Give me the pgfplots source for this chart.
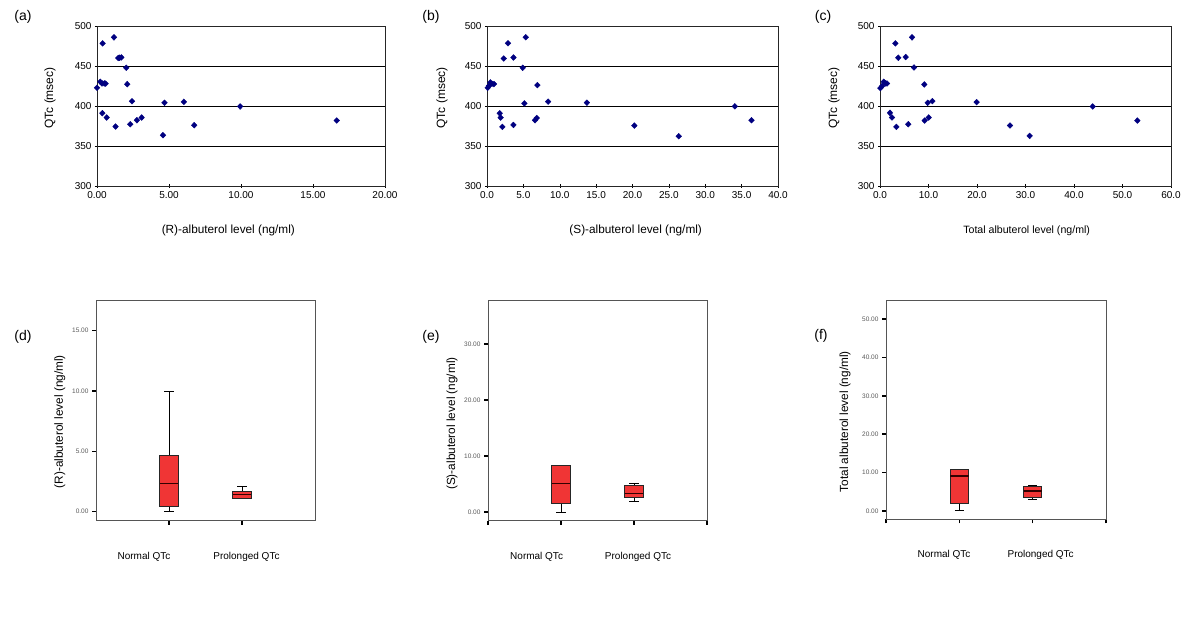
\documentclass[border=0pt]{standalone}
\usepackage{fontspec}
\setmainfont{Liberation Sans}
\usepackage{pgfplots}
\pgfplotsset{compat=1.18}
\usepgfplotslibrary{statistics}
\definecolor{navy}{HTML}{000080}
\definecolor{boxred}{HTML}{F03535}
\definecolor{framegray}{HTML}{555555}

\pgfplotsset{
  scat/.style={
    scale only axis, anchor=south west, clip=false,
    ymin=300, ymax=500, ytick={300,350,400,450,500},
    ymajorgrids, grid style={black, line width=0.6pt},
    axis line style={black!85, line width=0.6pt},
    tick style={black, line width=0.5pt}, major tick length=4pt, tick align=center,
    xtick pos=bottom, ytick pos=left,
    /pgf/number format/assume math mode=true,
    ticklabel style={font=\fontsize{10}{12}\selectfont},
    y tick label style={/pgf/number format/.cd, fixed, precision=0},
    ylabel style={anchor=center, font=\fontsize{12}{14}\selectfont},
    xlabel style={anchor=center},
  },
  dmk/.style={only marks, mark=diamond*, mark size=2.9pt, color=navy, mark options={xscale=1.3}},
  bx/.style={
    scale only axis, anchor=south west, clip=false,
    xmin=0, xmax=3, xticklabels={{},{},{},{}},
    boxplot/draw direction=y,
    axis line style={framegray, line width=0.9pt},
    tick style={black, line width=1.6pt}, major tick length=4pt, tick align=outside,
    xtick pos=bottom, ytick pos=left,
    /pgf/number format/assume math mode=true,
    yticklabel style={font=\fontsize{6.5}{8}\selectfont, text=black!65,
      /pgf/number format/.cd, fixed, fixed zerofill, precision=2},
    ylabel style={anchor=center, font=\fontsize{11.8}{14}\selectfont},
    boxplot/every box/.style={draw=black!85, fill=boxred, line width=0.8pt},
    boxplot/every whisker/.style={black, line width=0.8pt},
    boxplot/every median/.style={black!80!red, line width=1.3pt},
  },
}

\begin{document}
\begin{tikzpicture}
\useasboundingbox (0,0) rectangle (1200pt,620pt);

% ---------- (a) ----------
\begin{axis}[scat, at={(97pt,434pt)}, width=288pt, height=160pt,
  xmin=0, xmax=20, xtick={0,5,10,15,20},
  x tick label style={/pgf/number format/.cd, fixed, fixed zerofill, precision=2},
  ylabel={QTc (msec)}, ylabel style={at={(axis description cs:-0.163,0.55)}},
  xlabel={(R)-albuterol level (ng/ml)},
  xlabel style={at={(axis description cs:0.456,-0.279)}, font=\fontsize{11.8}{14}\selectfont}]
\addplot[dmk] coordinates {
(0.00,422.8) (0.23,430.3) (0.39,478.3) (0.35,428.2) (0.51,428.2) (0.60,428.0)
(0.37,391.0) (0.67,385.6) (1.18,485.8) (1.29,374.3) (1.48,460.0) (1.69,460.7)
(1.57,460.3) (2.03,447.8) (2.10,427.3) (2.43,406.0) (2.31,377.2) (2.77,382.2)
(3.10,385.6) (4.58,363.5) (4.69,404.0) (6.03,405.2) (6.75,376.0) (9.94,399.4)
(16.65,381.8)};
\end{axis}

% ---------- (b) ----------
\begin{axis}[scat, at={(487pt,434pt)}, width=291pt, height=160pt,
  xmin=0, xmax=40, xtick={0,5,...,40},
  x tick label style={/pgf/number format/.cd, fixed, fixed zerofill, precision=1},
  ylabel={QTc (msec)}, ylabel style={at={(axis description cs:-0.155,0.55)}},
  xlabel={(S)-albuterol level (ng/ml)},
  xlabel style={at={(axis description cs:0.511,-0.279)}, font=\fontsize{11.8}{14}\selectfont}]
\addplot[dmk] coordinates {
(0.09,422.8) (0.28,425.3) (0.46,429.5) (0.69,427.8) (0.96,427.4) (1.74,390.9)
(1.88,385.5) (2.11,373.9) (2.30,459.3) (2.89,478.4) (3.63,460.6) (3.63,376.3)
(4.91,447.7) (5.33,485.9) (5.14,403.3) (6.61,382.2) (6.84,385.0) (6.93,426.1)
(8.40,405.4) (13.73,404.1) (20.25,375.5) (26.35,362.2) (34.07,399.6) (36.36,382.2)};
\end{axis}

% ---------- (c) ----------
\begin{axis}[scat, at={(880pt,434pt)}, width=291pt, height=160pt,
  xmin=0, xmax=60, xtick={0,10,...,60},
  x tick label style={/pgf/number format/.cd, fixed, fixed zerofill, precision=1},
  ylabel={QTc (msec)}, ylabel style={at={(axis description cs:-0.158,0.55)}},
  xlabel={Total albuterol level (ng/ml)},
  xlabel style={at={(axis description cs:0.504,-0.279)}, font=\fontsize{10.6}{13}\selectfont}]
\addplot[dmk] coordinates {
(0.07,422.3) (0.41,424.8) (0.76,430.3) (1.10,428.2) (1.44,428.2) (2.06,391.4)
(2.47,385.6) (3.37,373.9) (3.16,478.3) (3.78,460.3) (5.29,461.2) (5.84,377.2)
(6.60,485.8) (7.01,448.2) (9.14,426.9) (9.21,381.8) (10.03,385.6) (9.83,404.0)
(10.79,406.1) (19.93,404.8) (26.80,375.6) (30.86,362.6) (43.85,399.4) (53.06,381.8)};
\end{axis}

% ---------- (d) ----------
\begin{axis}[bx, at={(96pt,99.3pt)}, width=219pt, height=220.7pt,
  ymin=-0.75, ymax=17.54, ytick={0,5,10,15}, xtick={1,2},
  ylabel={(R)-albuterol level (ng/ml)},
  ylabel style={at={(axis description cs:-0.165,0.449)}}]
\addplot[boxplot prepared={draw position=1, lower whisker=0, lower quartile=0.47,
  median=2.35, upper quartile=4.67, upper whisker=10.0, box extend=0.25, whisker extend=0.125}]
  coordinates {};
\addplot[boxplot prepared={draw position=2, lower whisker=1.11, lower quartile=1.11,
  median=1.41, upper quartile=1.66, upper whisker=2.07, box extend=0.25, whisker extend=0.125}]
  coordinates {};
\node[font=\fontsize{10}{12}\selectfont] at (rel axis cs:0.219,-0.163) {Normal QTc};
\node[font=\fontsize{10}{12}\selectfont] at (rel axis cs:0.687,-0.163) {Prolonged QTc};
\end{axis}

% ---------- (e) ----------
\begin{axis}[bx, at={(488pt,99.3pt)}, width=219pt, height=220.7pt,
  ymin=-1.55, ymax=37.9, ytick={0,10,20,30}, xtick={0,1,2,3},
  ylabel={(S)-albuterol level (ng/ml)},
  ylabel style={at={(axis description cs:-0.164,0.44)}}]
\addplot[boxplot prepared={draw position=1, lower whisker=0, lower quartile=1.55,
  median=5.12, upper quartile=8.33, upper whisker=8.33, box extend=0.25, whisker extend=0.125}]
  coordinates {};
\addplot[boxplot prepared={draw position=2, lower whisker=1.96, lower quartile=2.62,
  median=3.33, upper quartile=4.76, upper whisker=5.18, box extend=0.25, whisker extend=0.125}]
  coordinates {};
\node[font=\fontsize{10}{12}\selectfont] at (rel axis cs:0.222,-0.163) {Normal QTc};
\node[font=\fontsize{10}{12}\selectfont] at (rel axis cs:0.685,-0.163) {Prolonged QTc};
\end{axis}

% ---------- (f) ----------
\begin{axis}[bx, at={(886pt,100.7pt)}, width=220pt, height=219.3pt,
  ymin=-2.2, ymax=55, ytick={0,10,20,30,40,50}, xtick={0,1,2,3},
  ylabel={Total albuterol level (ng/ml)},
  ylabel style={at={(axis description cs:-0.186,0.445)}}]
\addplot[boxplot prepared={draw position=1, lower whisker=0, lower quartile=1.9,
  median=9.1, upper quartile=10.7, upper whisker=10.7, box extend=0.25, whisker extend=0.125}]
  coordinates {};
\addplot[boxplot prepared={draw position=2, lower whisker=3.1, lower quartile=3.57,
  median=5.2, upper quartile=6.33, upper whisker=6.7, box extend=0.25, whisker extend=0.125}]
  coordinates {};
\node[font=\fontsize{10}{12}\selectfont] at (rel axis cs:0.264,-0.163) {Normal QTc};
\node[font=\fontsize{10}{12}\selectfont] at (rel axis cs:0.703,-0.163) {Prolonged QTc};
\end{axis}

% panel labels
\node[font=\fontsize{14}{16}\selectfont] at (23pt,603pt) {(a)};
\node[font=\fontsize{14}{16}\selectfont] at (431pt,603pt) {(b)};
\node[font=\fontsize{14}{16}\selectfont] at (823pt,603pt) {(c)};
\node[font=\fontsize{14}{16}\selectfont] at (23pt,283.3pt) {(d)};
\node[font=\fontsize{14}{16}\selectfont] at (431pt,283.3pt) {(e)};
\node[font=\fontsize{14}{16}\selectfont] at (821pt,284.3pt) {(f)};
\end{tikzpicture}
\end{document}
